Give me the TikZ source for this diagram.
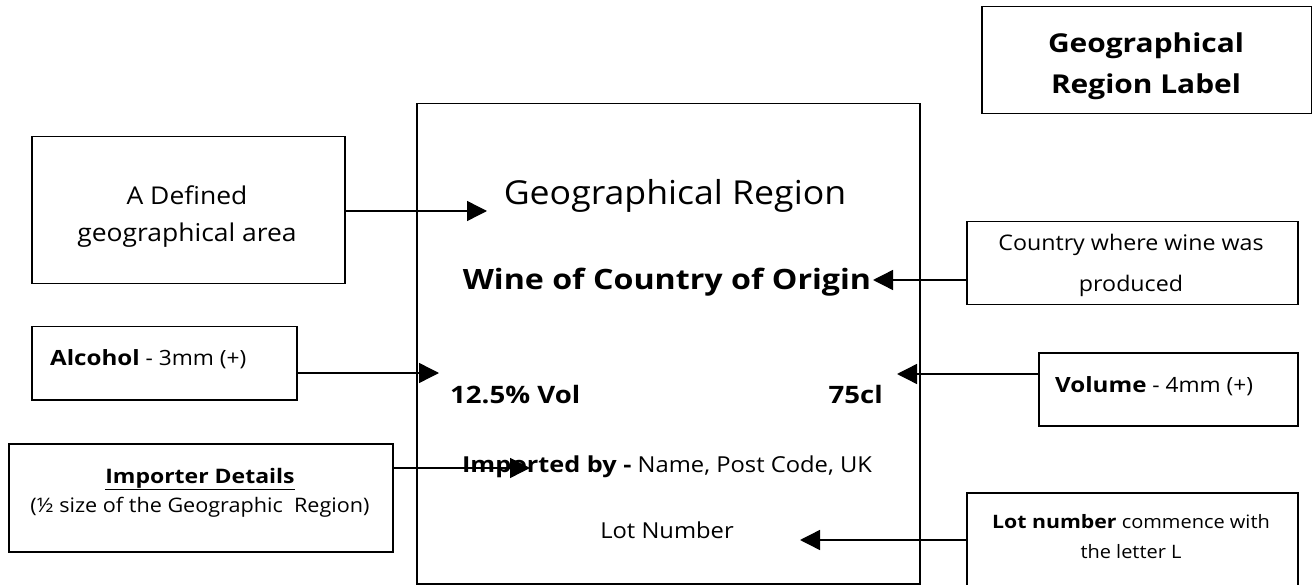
\documentclass[tikz,border=0pt]{standalone}
\usepackage{fontspec}
\setmainfont{Open Sans}[FakeStretch=1.08]
\newfontfamily\bdfam{Open Sans}[FakeStretch=1.15]
\newcommand\bdtext[1]{{\bdfam\bfseries #1}}
\newcommand\fsz[1]{\fontsize{#1}{#1}\selectfont}
\usetikzlibrary{arrows.meta}
\begin{document}
\begin{tikzpicture}[x=1pt,y=-1pt,
  box/.style={draw,line width=1.5pt,rectangle,inner sep=0pt,anchor=north west},
  arr/.style={line width=1.4pt,-{Triangle[length=20pt,width=20pt]}},
  txt/.style={inner sep=0pt,anchor=base}]
\useasboundingbox (0,0) rectangle (1312,585);
\clip (0,0) rectangle (1312,585);
\fill[white] (0,0) rectangle (1312,585);
% boxes
\node[box,minimum width=503pt,minimum height=480pt] (label) at (416,103) {};
\node[box,minimum width=330pt,minimum height=107pt] (geolabel) at (981,6) {};
\node[box,minimum width=313pt,minimum height=147pt] (area) at (31,136) {};
\node[box,minimum width=265pt,minimum height=73pt] (alc) at (31,326) {};
\node[box,minimum width=384pt,minimum height=108pt] (impbox) at (8,443) {};
\node[box,minimum width=331pt,minimum height=83pt] (country) at (966,221) {};
\node[box,minimum width=259pt,minimum height=73pt] (volbox) at (1038,352) {};
\node[box,minimum width=331pt,minimum height=100pt] (lotbox) at (966,492) {};
% texts in label
\node[txt,font=\fsz{33}] (georeg) at (675,205) {Geographical Region};
\node[txt,font=\bdfam\bfseries\fsz{28}] (wine) at (667,290) {Wine of Country of Origin};
\node[txt,anchor=base west,font=\bdfam\bfseries\fsz{24}] (alcv) at (450,403) {12.5\% Vol};
\node[txt,anchor=base east,font=\bdfam\bfseries\fsz{24}] (cl) at (883,403) {75cl};
\node[txt,font=\fsz{22}] (imp) at (667,472) {\bdtext{Imported by -} Name, Post Code, UK};
\node[txt,font=\fsz{22}] (lot) at (667,538) {Lot Number};
% texts in side boxes
\node[txt,font=\bdfam\bfseries\fsz{26}] (geot1) at (1146,53) {Geographical};
\node[txt,font=\bdfam\bfseries\fsz{26}] (geot2) at (1146,94) {Region Label};
\node[txt,font=\fsz{24.5}] (areat1) at (187,205) {A Defined};
\node[txt,font=\fsz{24.5}] (areat2) at (187,242) {geographical area};
\node[txt,anchor=base west,font=\fsz{21}] (alct) at (50,365) {\bdtext{Alcohol} - 3mm (+)};
\node[txt,font=\fsz{20}] (impt1) at (200,483) {\underline{\bdtext{Importer Details}}};
\node[txt,font=\fsz{20}] (impt2) at (200,512) {(½ size of the Geographic~ Region)};
\node[txt,font=\fsz{21.5}] (countryt1) at (1131,251) {Country where wine was};
\node[txt,font=\fsz{21.5}] (countryt2) at (1131,292) {produced};
\node[txt,anchor=base west,font=\fsz{21}] (volt) at (1055,392) {\bdtext{Volume} - 4mm (+)};
\node[txt,font=\fsz{18.5}] (lott1) at (1131,528) {\bdtext{Lot number} commence with};
\node[txt,font=\fsz{18.5}] (lott2) at (1131,558) {the letter L};
% arrow tips
\coordinate (tA) at (487,211);
\coordinate (tB) at (439,373);
\coordinate (tC) at (530,468);
\coordinate (tD) at (873,280);
\coordinate (tE) at (897,374);
\coordinate (tF) at (800,540);
\draw[arr] (area.east |- tA) -- (tA);
\draw[arr] (alc.east |- tB) -- (tB);
\draw[arr] (impbox.east |- tC) -- (tC);
\draw[arr] (country.west |- tD) -- (tD);
\draw[arr] (volbox.west |- tE) -- (tE);
\draw[arr] (lotbox.west |- tF) -- (tF);
\end{tikzpicture}
\end{document}
